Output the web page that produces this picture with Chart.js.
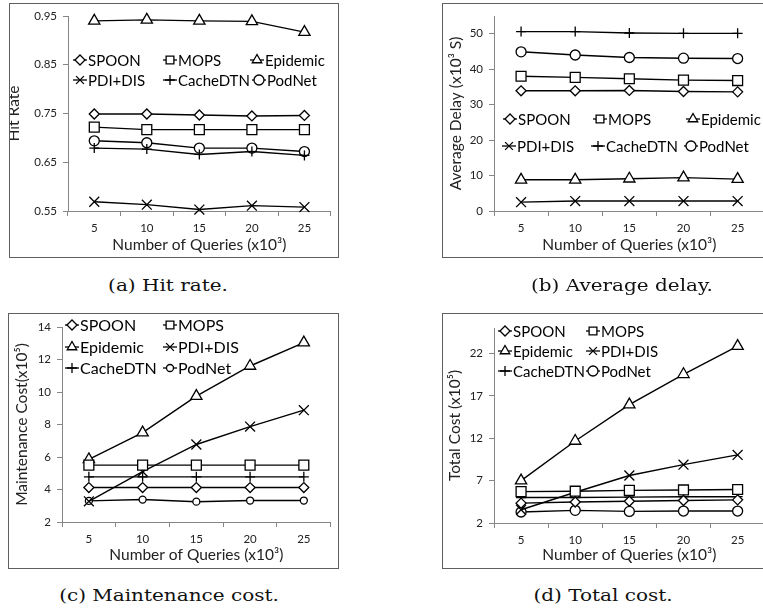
<!DOCTYPE html>
<html>
<head>
    <title>Query Experiments</title>
    <script src="https://cdn.jsdelivr.net/npm/chart.js"></script>
    <style>
        html, body { margin: 0; padding: 0; background: #fff; overflow: hidden; }
        #page { position: relative; width: 763px; height: 611px; overflow: hidden; }
        canvas { position: absolute; }
        .frame { position: absolute; box-sizing: border-box; border: 1px solid #5f5f5f; pointer-events: none; }
        .caption { position: absolute; width: 300px; text-align: center; font-family: "DejaVu Serif", serif; font-size: 16px; color: #111; transform: scaleX(1.25); transform-origin: 50% 50%; }
    </style>
</head>
<body>
<div id="page">
    <canvas id="hitChart" width="330" height="255" style="left:9px;top:3px"></canvas>
    <canvas id="delayChart" width="331" height="255" style="left:442px;top:3px"></canvas>
    <canvas id="maintChart" width="331" height="256" style="left:8px;top:313px"></canvas>
    <canvas id="totalChart" width="331" height="256" style="left:442px;top:313px"></canvas>

    <div class="frame" style="left:9px;top:3px;width:330px;height:255px"></div>
    <div class="frame" style="left:442px;top:3px;width:340px;height:255px"></div>
    <div class="frame" style="left:8px;top:313px;width:331px;height:256px"></div>
    <div class="frame" style="left:442px;top:313px;width:340px;height:256px"></div>

    <div class="caption" style="left:18px;top:276px">(a) Hit rate.</div>
    <div class="caption" style="left:472px;top:276px">(b) Average delay.</div>
    <div class="caption" style="left:19px;top:586px">(c) Maintenance cost.</div>
    <div class="caption" style="left:453px;top:586px">(d) Total cost.</div>
</div>

<script>
    // x categories: number of queries (x10^3)
    var queries = ['5', '10', '15', '20', '25'];
    var seriesNames = ['SPOON', 'MOPS', 'Epidemic', 'PDI+DIS', 'CacheDTN', 'PodNet'];

    // (a) hit rate
    var hitSpoon    = [0.749, 0.749, 0.747, 0.745, 0.746];
    var hitMops     = [0.722, 0.717, 0.717, 0.717, 0.717];
    var hitEpidemic = [0.940, 0.942, 0.940, 0.939, 0.917];
    var hitPdi      = [0.569, 0.563, 0.553, 0.561, 0.558];
    var hitCache    = [0.679, 0.677, 0.666, 0.672, 0.664];
    var hitPodnet   = [0.694, 0.690, 0.679, 0.679, 0.672];
    var hitTicks    = [0.55, 0.65, 0.75, 0.85, 0.95];

    // (b) average delay (x10^3 s)
    var delaySpoon    = [33.9, 33.9, 34.0, 33.7, 33.6];
    var delayMops     = [38.0, 37.7, 37.3, 36.9, 36.8];
    var delayEpidemic = [8.8, 8.8, 9.1, 9.4, 9.0];
    var delayPdi      = [2.5, 2.8, 2.8, 2.8, 2.8];
    var delayCache    = [50.6, 50.6, 50.2, 50.1, 50.1];
    var delayPodnet   = [44.9, 44.0, 43.3, 43.1, 43.0];
    var delayTicks    = [0, 10, 20, 30, 40, 50];

    // (c) maintenance cost (x10^5)
    var maintSpoon    = [4.12, 4.12, 4.12, 4.12, 4.12];
    var maintMops     = [5.5, 5.5, 5.5, 5.5, 5.5];
    var maintEpidemic = [5.85, 7.5, 9.75, 11.6, 13.04];
    var maintPdi      = [3.27, 5.1, 6.77, 7.87, 8.88];
    var maintCache    = [4.78, 4.78, 4.78, 4.78, 4.78];
    var maintPodnet   = [3.3, 3.38, 3.25, 3.32, 3.32];
    var maintTicks    = [2, 4, 6, 8, 10, 12, 14];

    // (d) total cost (x10^5)
    var totalSpoon    = [4.34, 4.47, 4.57, 4.65, 4.73];
    var totalMops     = [5.7, 5.75, 5.85, 5.9, 5.95];
    var totalEpidemic = [7.0, 11.67, 15.96, 19.54, 22.86];
    var totalPdi      = [3.56, 5.63, 7.6, 8.88, 10.03];
    var totalCache    = [5.0, 5.0, 5.05, 5.1, 5.1];
    var totalPodnet   = [3.3, 3.49, 3.37, 3.41, 3.41];
    var totalTicks    = [2, 7, 12, 17, 22];

    var markerStyles = ['rectRot', 'rect', 'triangle', 'crossRot', 'cross', 'circle'];
    var markerSizes  = [5, 7, 6.5, 7, 5, 5];
    var axisGray = '#868686';
    var textColor = '#222';
    var sansFont = 'Lato, "Open Sans", sans-serif';

    // legend drawn inside the plot, Excel style: short line + marker + label
    var boxLegend = {
        id: 'boxLegend',
        afterDraw: function(chart, args, opts) {
            var ctx = chart.ctx;
            ctx.save();
            ctx.font = opts.size + 'px ' + sansFont;
            ctx.textBaseline = 'middle';
            chart.data.datasets.forEach(function(ds, i) {
                var x = opts.slots[i][0], y = opts.slots[i][1];
                ctx.strokeStyle = '#000';
                ctx.lineWidth = 1.3;
                ctx.beginPath();
                ctx.moveTo(x - 7, y);
                ctx.lineTo(x + 7, y);
                ctx.stroke();
                ctx.fillStyle = '#fff';
                Chart.helpers.drawPoint(ctx, {
                    pointStyle: ds.pointStyle,
                    radius: Math.min(ds.pointRadius, 5.5),
                    rotation: 0,
                    borderWidth: 1.3
                }, x, y);
                ctx.fillStyle = '#000';
                ctx.fillText(ds.label, x + 8, y + 1);
            });
            ctx.restore();
        }
    };

    function buildDatasets(values, circleSize) {
        return values.map(function(vals, i) {
            var r = markerSizes[i];
            if (i === 5 && circleSize) r = circleSize;
            return {
                label: seriesNames[i],
                data: vals,
                borderColor: '#000',
                backgroundColor: '#fff',
                borderWidth: 1.4,
                pointStyle: markerStyles[i],
                pointRadius: r,
                pointBorderWidth: 1.3,
                pointBackgroundColor: '#fff',
                pointBorderColor: '#000',
                tension: 0,
                clip: false
            };
        });
    }

    function makeChart(id, p) {
        var ctx = document.getElementById(id).getContext('2d');
        return new Chart(ctx, {
            type: 'line',
            data: { labels: queries, datasets: buildDatasets(p.values, p.circleSize) },
            plugins: [boxLegend],
            options: {
                responsive: false,
                animation: false,
                devicePixelRatio: 1,
                layout: { padding: { top: p.top, right: 1, left: 0, bottom: 0 } },
                plugins: {
                    legend: { display: false },
                    tooltip: { enabled: false },
                    boxLegend: { slots: p.slots, size: p.legendSize }
                },
                scales: {
                    x: {
                        type: 'category',
                        offset: true,
                        grid: { offset: true, drawOnChartArea: false, tickLength: 5, color: axisGray },
                        border: { color: axisGray, width: 1 },
                        ticks: { color: textColor, font: { family: sansFont, size: 11.5 }, padding: 5, maxRotation: 0 },
                        title: {
                            display: true,
                            text: 'Number of Queries (x10\u00b3)',
                            color: textColor,
                            font: { family: sansFont, size: 15.5 },
                            padding: { top: 0, bottom: p.xTitlePad }
                        },
                        afterFit: function(scale) { scale.height = p.xHeight; }
                    },
                    y: {
                        min: p.min,
                        max: p.max,
                        grid: { drawOnChartArea: false, tickLength: 5, color: axisGray },
                        border: { color: axisGray, width: 1 },
                        ticks: {
                            color: textColor,
                            font: { family: sansFont, size: 11.5 },
                            padding: 6,
                            callback: function(v) { return p.digits ? Number(v).toFixed(p.digits) : String(v); }
                        },
                        afterBuildTicks: function(scale) {
                            scale.ticks = p.ticks.map(function(v) { return { value: v }; });
                        },
                        title: {
                            display: true,
                            text: p.yTitle,
                            color: textColor,
                            font: { family: sansFont, size: 15.5 },
                            padding: { top: p.yTitlePad, bottom: 0 }
                        },
                        afterFit: function(scale) { scale.width = p.yWidth; }
                    }
                }
            }
        });
    }

    makeChart('hitChart', {
        values: [hitSpoon, hitMops, hitEpidemic, hitPdi, hitCache, hitPodnet],
        ticks: hitTicks, min: 0.55, max: 0.95, digits: 2,
        yTitle: 'Hit Rate', yTitlePad: -4.8, yWidth: 59,
        top: 13, xHeight: 47, xTitlePad: 3.7, legendSize: 15,
        slots: [[71, 57], [161, 57], [248, 57], [71, 77], [161, 77], [250, 77]]
    });

    makeChart('delayChart', {
        values: [delaySpoon, delayMops, delayEpidemic, delayPdi, delayCache, delayPodnet],
        ticks: delayTicks, min: 0, max: 55,
        yTitle: 'Average Delay (x10\u00b3 S)', yTitlePad: 4.4, yWidth: 52,
        top: 13, xHeight: 47, xTitlePad: 3.7, legendSize: 15,
        slots: [[68, 116], [158, 116], [251, 116], [67, 143], [156, 143], [249, 143]]
    });

    makeChart('maintChart', {
        values: [maintSpoon, maintMops, maintEpidemic, maintPdi, maintCache, maintPodnet],
        ticks: maintTicks, min: 2, max: 14, circleSize: 3.5,
        yTitle: 'Maintenance Cost(x10\u2075)', yTitlePad: 4.4, yWidth: 54,
        top: 14, xHeight: 47, xTitlePad: 4.7, legendSize: 16,
        slots: [[64, 12], [162, 12], [64, 34], [162, 34], [64, 55], [162, 55]]
    });

    makeChart('totalChart', {
        values: [totalSpoon, totalMops, totalEpidemic, totalPdi, totalCache, totalPodnet],
        ticks: totalTicks, min: 2, max: 25,
        yTitle: 'Total Cost (x10\u2075)', yTitlePad: 3.4, yWidth: 52,
        top: 15, xHeight: 46, xTitlePad: 4.7, legendSize: 15,
        slots: [[63, 18], [151, 18], [63, 38], [151, 38], [63, 58], [151, 58]]
    });
</script>
</body>
</html>
